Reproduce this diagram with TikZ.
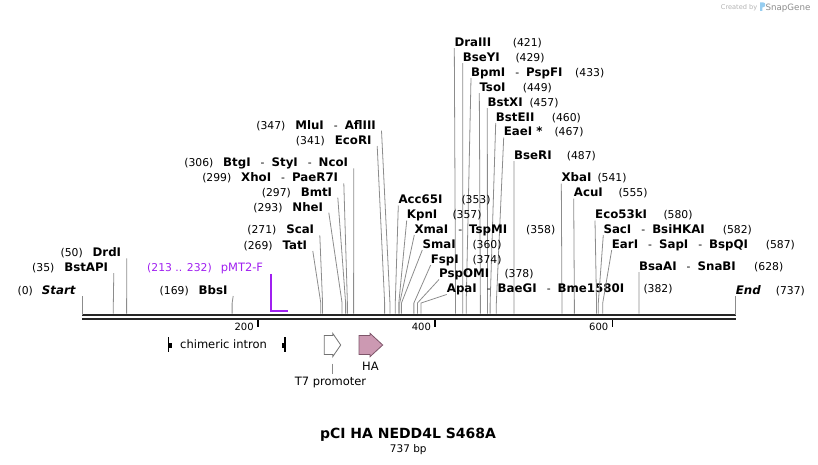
\documentclass[tikz,border=0pt]{standalone}
\usepackage{fontspec}
\setmainfont{DejaVu Sans}
\usepackage{xcolor}
\usepackage{tikz}
\usetikzlibrary{positioning}

\definecolor{primerpurple}{RGB}{160,32,240}
\definecolor{hapink}{RGB}{204,153,178}
\definecolor{haedge}{RGB}{125,85,105}
\definecolor{logoblue}{RGB}{150,205,240}

% gap and dash between two enzyme names on one label
\newcommand{\enzsep}{\hspace{10pt}{\mdseries\fontsize{10.8}{13}\selectfont -}\hspace{7pt}}

\begin{document}
\begin{tikzpicture}[
        x=1pt, y=-1pt,
        % Define styles for the texts
        enz/.style={
            font=\fontsize{11.8}{13}\selectfont\bfseries,
            inner sep=0pt
        },
        num/.style={
            font=\fontsize{10.8}{13}\selectfont,
            inner sep=0pt
        },
        feat/.style={
            font=\fontsize{11.5}{13}\selectfont,
            inner sep=0pt
        },
        ticklabel/.style={
            font=\fontsize{10}{12}\selectfont,
            inner sep=0pt
        },
        % Define styles for the lines
        leader/.style={
            draw=black!45,
            line width=0.8pt
        },
        backbone/.style={
            draw=black!85,
            line width=2.3pt
        },
        tickmark/.style={
            draw=black,
            line width=1.6pt
        },
        primer/.style={
            draw=primerpurple,
            line width=1.6pt
        }
    ]

    \useasboundingbox (0,0) rectangle (818,464);

    % Place the backbone
    \coordinate (bbstart) at (82.3,314.8);
    \coordinate (bbend) at (735.7,314.8);
    \draw[backbone] (bbstart) -- (bbend);
    \draw[backbone] ([yshift=-4.4pt]bbstart) -- ([yshift=-4.4pt]bbend);

    % Place the ruler
    \foreach \t in {200,400,600} {
        \coordinate (tick\t) at ({82.3+0.8866*(\t-2)},320.3);
        \draw[tickmark] (tick\t) -- ++(0,7);
        \node[ticklabel, anchor=base east] (tl\t) at ([xshift=-4pt,yshift=-10.4pt]tick\t) {\t};
    }

    % Place sites labelled on the right of their leader
    \foreach \nm/\lx/\cy/\txt/\nx/\bp in {
        draiii/454.3/42/DraIII/512.7/421,
        bseyi/462.7/57/BseYI/515.3/429,
        bpmi/471/72/BpmI\enzsep PspFI/575/433,
        tsoi/479.3/87/TsoI/522.7/449,
        bstxi/487.3/102/BstXI/529.3/457,
        bsteii/495.7/117/BstEII/551.7/460,
        eaei/503.7/131.5/EaeI */554.3/467,
        bseri/514/155/BseRI/566.7/487,
        xbai/561.3/177.5/XbaI/597.3/541,
        acui/573.7/192.5/AcuI/618.3/555,
        acc65i/398.3/199.5/Acc65I/461.3/353,
        kpni/406.7/214.5/KpnI/452.3/357,
        xmai/414.3/229/XmaI\enzsep TspMI/526/358,
        smai/422.3/244/SmaI/472.3/360,
        fspi/430.7/259/FspI/472.3/374,
        pspomi/439/273.5/PspOMI/504.3/378,
        apai/446.7/288.5/ApaI\enzsep BaeGI\enzsep Bme1580I/643.3/382,
        eco53ki/595/214.5/Eco53kI/663.3/580,
        saci/603.3/229/SacI\enzsep BsiHKAI/722.7/582,
        eari/611.7/244/EarI\enzsep SapI\enzsep BspQI/765.7/587,
        bsaai/639/266/BsaAI\enzsep SnaBI/754/628} {
        \node[enz, anchor=base west] (\nm) at (\lx,\cy+4.3) {\txt};
        \node[num, anchor=base west] (\nm-n) at (\nx,\cy+4.3) {(\bp)};
        \coordinate (\nm-k) at ({82.3+0.8866*\bp},303);
        \coordinate (\nm-c) at ({82.3+0.8866*\bp},313.6);
        \draw[leader] ([yshift=-1.7pt]\nm.base west) -- (\nm-k) -- (\nm-c);
    }

    % Place sites labelled on the left of their leader
    \foreach \nm/\ex/\cy/\txt/\bp in {
        mlui/376/124.7/MluI\enzsep AflIII/347,
        ecori/371.7/140/EcoRI/341,
        btgi/348.3/162.3/BtgI\enzsep StyI\enzsep NcoI/306,
        xhoi/338.3/177.3/XhoI\enzsep PaeR7I/299,
        bmti/332.3/191.7/BmtI/297,
        nhei/323.3/206.7/NheI/293,
        scai/314.3/229.3/ScaI/271,
        tati/307.3/245/TatI/269,
        drdi/121.3/252.3/DrdI/50,
        bstapi/108.3/267/BstAPI/35,
        bbsi/227.7/290/BbsI/169} {
        \node[enz, anchor=base east] (\nm) at (\ex,\cy+4.3) {\txt};
        \node[num, left=9.5pt of \nm.base west, anchor=base east] (\nm-n) {(\bp)};
        \coordinate (\nm-k) at ({82.3+0.8866*\bp},303);
        \coordinate (\nm-c) at ({82.3+0.8866*\bp},313.6);
        \draw[leader] ([xshift=5.5pt,yshift=-1.7pt]\nm.base east) -- (\nm-k) -- (\nm-c);
    }

    % Start and end of the sequence
    \node[enz, font=\fontsize{11.8}{13}\selectfont\bfseries\itshape, anchor=base east] (start) at (75.7,294.3) {Start};
    \node[num, left=8.7pt of start.base west, anchor=base east] (start-n) {(0)};
    \draw[leader] ([xshift=6.6pt,yshift=-1.7pt]start.base east) -- (bbstart);
    \node[enz, font=\fontsize{11.8}{13}\selectfont\bfseries\itshape, anchor=base west] (end) at (735.7,294.3) {End};
    \node[num, anchor=base west] (end-n) at (775.7,294.3) {(737)};
    \draw[leader] ([yshift=-1.7pt]end.base west) -- (bbend);

    % Primer
    \node[feat, text=primerpurple, anchor=base east] (pmt) at (263.3,271.3) {pMT2-F};
    \node[num, text=primerpurple, left=8.6pt of pmt.base west, anchor=base east] (pmt-n) {(213 .. 232)};
    \coordinate (p1) at (271,310.7);
    \coordinate (p2) at (288,310.7);
    \draw[primer] (p1 |- pmt.south) -- (p1) -- (p2);

    % Features under the backbone
    \draw[line width=1.5pt] (168.3,337) -- (168.3,352);
    \fill (168.3,342.8) rectangle (171.5,347.8);
    \draw[line width=1.5pt] (285,337) -- (285,352);
    \fill (281.8,342.8) rectangle (285,347.8);
    \node[feat, anchor=base west] (intron) at (180,348.3) {chimeric intron};

    \draw[draw=black!55, fill=white, line width=0.8pt] (324.3,335.5) -- (332.7,335.5) -- (332.7,333.3)
        -- (340.7,345) -- (332.7,356.7) -- (332.7,354.5) -- (324.3,354.5) -- cycle;
    \coordinate (t7) at (332.3,363.5);
    \node[feat, inner sep=2.8pt, anchor=base] (t7lab) at (330.5,385.5) {T7 promoter};
    \draw[leader] (t7) -- (t7 |- t7lab.north);

    \draw[draw=haedge, fill=hapink, line width=0.8pt] (359,335.5) -- (370,335.5) -- (370,333.3)
        -- (382.7,345) -- (370,356.7) -- (370,354.5) -- (359,354.5) -- cycle;
    \node[feat, anchor=base] (halab) at (370.5,370.7) {HA};

    % Title
    \node[font=\fontsize{14}{16}\selectfont\bfseries, inner sep=0pt, anchor=base] (title) at (408,438.3) {pCI HA NEDD4L S468A};
    \node[font=\fontsize{10.5}{12}\selectfont, inner sep=0pt, anchor=base] (size) at (408.3,452.3) {737 bp};

    % Watermark
    \node[font=\fontsize{6.6}{8}\selectfont, text=black!30, inner sep=0pt, anchor=base west] (created) at (720.7,9.3) {Created by};
    \fill[logoblue] (760,2.3) -- (763,2.3) .. controls (766,2.3) and (766,7.3) .. (763,7.3)
        -- (762.4,7.3) -- (762.4,10.8) -- (760,10.8) -- cycle;
    \node[font=\fontsize{8.7}{10}\selectfont, text=black!45, inner sep=0pt, anchor=base west] (snapgene) at (765.3,10) {SnapGene};

\end{tikzpicture}
\end{document}
